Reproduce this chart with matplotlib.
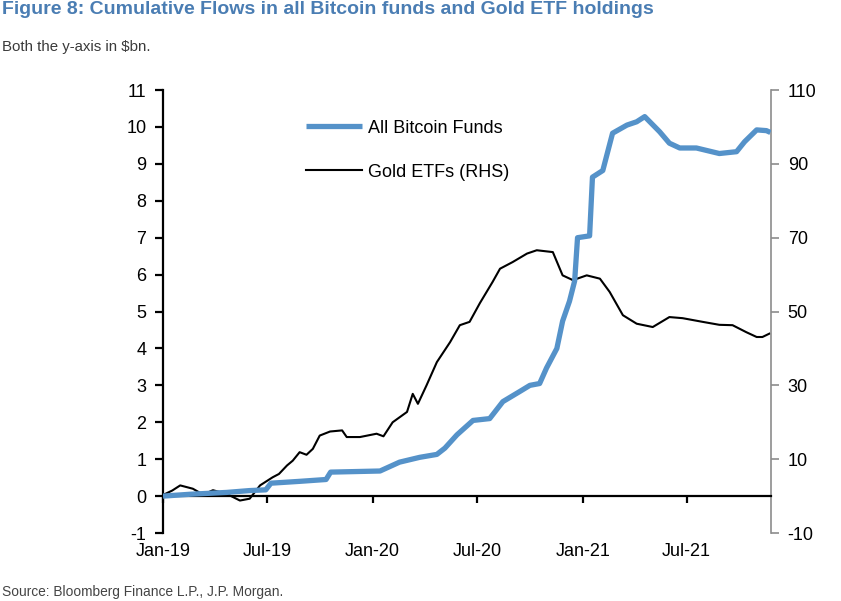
import pandas as pd
import matplotlib
matplotlib.use('Agg')
import matplotlib.pyplot as plt
import matplotlib.dates as mdates

plt.rcParams['font.family'] = ['Liberation Sans', 'DejaVu Sans']
plt.rcParams['axes.unicode_minus'] = False

# All Bitcoin funds, cumulative flows ($bn, left axis)
btc_dates = ['2019-01-01', '2019-02-17', '2019-04-22', '2019-06-01', '2019-06-29', '2019-07-08',
             '2019-08-27', '2019-10-12', '2019-10-20', '2020-01-14', '2020-01-31', '2020-02-17',
             '2020-03-23', '2020-04-22', '2020-05-06', '2020-05-27', '2020-06-24', '2020-07-23',
             '2020-08-15', '2020-09-13', '2020-10-01', '2020-10-18', '2020-10-30', '2020-11-17',
             '2020-11-27', '2020-12-09', '2020-12-18', '2020-12-23', '2021-01-13', '2021-01-18',
             '2021-02-05', '2021-02-22', '2021-03-19', '2021-04-05', '2021-04-19', '2021-05-15',
             '2021-06-01', '2021-06-19', '2021-07-18', '2021-08-27', '2021-09-26', '2021-10-10',
             '2021-10-31', '2021-11-17', '2021-11-24']
btc_flows = [0.0, 0.05, 0.1, 0.15, 0.17, 0.35,
             0.40, 0.45, 0.65, 0.68, 0.80, 0.92,
             1.05, 1.13, 1.30, 1.66, 2.05, 2.10,
             2.56, 2.83, 3.0, 3.05, 3.47, 4.0,
             4.74, 5.28, 5.83, 7.0, 7.05, 8.64,
             8.82, 9.83, 10.05, 10.14, 10.28, 9.87,
             9.56, 9.43, 9.43, 9.28, 9.33, 9.6,
             9.92, 9.9, 9.85]

# Gold ETF holdings, cumulative ($bn, right axis)
gold_dates = ['2019-01-01', '2019-01-17', '2019-01-31', '2019-02-22', '2019-03-12', '2019-03-29',
              '2019-04-22', '2019-05-15', '2019-06-01', '2019-06-19', '2019-07-11', '2019-07-22',
              '2019-08-05', '2019-08-15', '2019-08-27', '2019-09-08', '2019-09-19', '2019-10-01',
              '2019-10-19', '2019-11-09', '2019-11-17', '2019-12-10', '2020-01-08', '2020-01-20',
              '2020-02-05', '2020-03-01', '2020-03-11', '2020-03-20', '2020-04-04', '2020-04-22',
              '2020-05-15', '2020-06-01', '2020-06-18', '2020-07-06', '2020-07-28', '2020-08-10',
              '2020-09-01', '2020-09-26', '2020-10-13', '2020-11-10', '2020-11-27', '2020-12-15',
              '2021-01-08', '2021-01-31', '2021-02-17', '2021-03-12', '2021-04-05', '2021-05-03',
              '2021-06-01', '2021-06-24', '2021-07-29', '2021-08-27', '2021-09-19', '2021-10-13',
              '2021-10-31', '2021-11-10', '2021-11-22']
gold_flows = [0.3, 1.5, 2.9, 2.0, 0.4, 1.6,
              0.6, -1.2, -0.7, 2.9, 5.1, 6.0,
              8.3, 9.6, 11.9, 11.2, 12.8, 16.4,
              17.5, 17.8, 16.0, 16.0, 16.9, 16.2,
              20.0, 22.8, 27.7, 25.0, 30.0, 36.3,
              41.7, 46.3, 47.2, 52.3, 58.0, 61.6,
              63.4, 65.7, 66.6, 66.1, 59.8, 58.5,
              59.8, 58.9, 55.3, 49.0, 46.7, 45.8,
              48.5, 48.2, 47.2, 46.4, 46.3, 44.4,
              43.1, 43.1, 44.0]

left_ticks = list(range(-1, 12))
right_ticks = [-10, 10, 30, 50, 70, 90, 110]
x_ticks = ['2019-01-01', '2019-07-01', '2020-01-01', '2020-07-01', '2021-01-01', '2021-07-01']

btc_dates = pd.to_datetime(btc_dates)
gold_dates = pd.to_datetime(gold_dates)

fig = plt.figure(figsize=(8.41, 6.01), dpi=100)
ax = fig.add_axes([0.1938, 0.1131, 0.7230, 0.7371])
ax2 = ax.twinx()

l1, = ax.plot(btc_dates, btc_flows, color='#5592c9', lw=3.8, solid_capstyle='butt',
              label='All Bitcoin Funds', zorder=3)
l2, = ax2.plot(gold_dates, gold_flows, color='black', lw=1.5, label='Gold ETFs (RHS)')

ax.set_zorder(ax2.get_zorder() + 1)
ax.patch.set_visible(False)

ax.set_ylim(-1, 11)
ax2.set_ylim(-10, 110)
ax.set_xlim(pd.Timestamp('2019-01-01'), pd.Timestamp('2021-11-25'))

ax.set_yticks(left_ticks)
ax2.set_yticks(right_ticks)
ax.set_xticks(pd.to_datetime(x_ticks))
ax.xaxis.set_major_formatter(mdates.DateFormatter('%b-%y'))

for s in ['top', 'right']:
    ax.spines[s].set_visible(False)
ax.spines['bottom'].set_position(('data', 0))
ax.spines['bottom'].set_linewidth(1.6)
ax.spines['left'].set_linewidth(1.6)
for s in ['top', 'left', 'bottom']:
    ax2.spines[s].set_visible(False)
ax2.spines['right'].set_color('#8c8c8c')
ax2.spines['right'].set_linewidth(1.2)

ax.tick_params(axis='y', length=6, width=1.6, labelsize=13, pad=6)
ax.tick_params(axis='x', length=5, width=1.6, labelsize=13, pad=29)
ax2.tick_params(axis='y', length=6, width=1.2, color='#8c8c8c', labelsize=13, pad=6)

ax.legend(handles=[l1, l2], loc='upper left', bbox_to_anchor=(0.208, 0.97), frameon=False,
          fontsize=13, handlelength=3.1, handletextpad=0.35, labelspacing=1.5)

fig.text(0.002, 0.985, 'Figure 8: Cumulative Flows in all Bitcoin funds and Gold ETF holdings',
         color='#4a7db3', fontsize=14, fontweight='bold', va='center', ha='left')
fig.text(0.002, 0.922, 'Both the y-axis in $bn.', color='#3a3a3a', fontsize=10.8, va='center', ha='left')
fig.text(0.002, 0.015, 'Source: Bloomberg Finance L.P., J.P. Morgan.', color='#444444',
         fontsize=9.9, va='center', ha='left')

fig.savefig('out.png', dpi=100)
